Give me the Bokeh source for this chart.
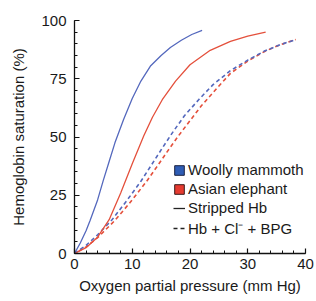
from bokeh.plotting import figure
from bokeh.models import SingleIntervalTicker, Legend, LegendItem
from bokeh.embed import file_html
from bokeh.resources import INLINE

# Woolly mammoth, stripped Hb (solid blue)
mam_strip_x = [0, 1, 2, 2.7, 4, 5, 6, 7, 8.5, 10, 11.5, 13.2, 15, 16.6, 18.5, 20.3, 22.1]
mam_strip_y = [0, 4.5, 9.8, 14.2, 23, 31.5, 39.5, 47.5, 57.5, 66.5, 74, 80.6, 85, 88.4, 91.5, 94, 95.8]

# Asian elephant, stripped Hb (solid red)
ele_strip_x = [0, 2, 4, 6, 8, 10, 12, 13.5, 15.2, 17.5, 20, 23.5, 27, 30, 33.1]
ele_strip_y = [0, 2.5, 7, 14.5, 26, 38.5, 50.5, 58.5, 66, 74, 81, 87.2, 91, 93.3, 95]

# Woolly mammoth, Hb + Cl- + BPG (dashed blue)
mam_eff_x = [0, 2, 4, 6.5, 9, 11.5, 13.2, 15, 17, 19, 21.5, 24, 27, 30, 33, 35.5, 38.3]
mam_eff_y = [0, 3.5, 8, 14.5, 22.5, 31, 37.5, 44.5, 52, 59, 66, 72.5, 78.5, 83, 87, 89.5, 91.8]

# Asian elephant, Hb + Cl- + BPG (dashed red)
ele_eff_x = [0, 2, 4, 7, 9.5, 12.5, 14.2, 16, 18, 20, 22, 24.5, 27, 30, 33, 35.5, 38.3]
ele_eff_y = [0, 2.8, 6.8, 14.2, 21.5, 31, 37, 43.5, 50.5, 57, 63.5, 70.5, 77.3, 82.6, 86.8, 89.5, 91.8]

legend_labels = ["Woolly mammoth", "Asian elephant", "Stripped Hb", "Hb + Cl\u207B + BPG"]

BLUE_LINE = "#5468bd"
RED_LINE = "#e4503c"
BLUE_BOX = "#2f5db5"
RED_BOX = "#e63b30"
FONT = "Liberation Sans"
NAN = float("nan")

p = figure(width=316, height=301, x_range=(0, 40), y_range=(0, 100),
           output_backend="svg", toolbar_location=None,
           min_border_left=74, min_border_right=11, min_border_top=20, min_border_bottom=48)
p.grid.visible = False
p.outline_line_color = None
p.background_fill_color = "white"
p.border_fill_color = "white"

p.line(ele_eff_x, ele_eff_y, line_color=RED_LINE, line_width=1.6, line_dash="4 3", line_dash_offset=2)
p.line(mam_eff_x, mam_eff_y, line_color=BLUE_LINE, line_width=1.6, line_dash="4 3")
p.line(ele_strip_x, ele_strip_y, line_color=RED_LINE, line_width=1.3)
p.line(mam_strip_x, mam_strip_y, line_color=BLUE_LINE, line_width=1.3)

p.xaxis.ticker = SingleIntervalTicker(interval=10, num_minor_ticks=5)
p.yaxis.ticker = SingleIntervalTicker(interval=25, num_minor_ticks=5)
p.xaxis.axis_label = "Oxygen partial pressure (mm Hg)"
p.yaxis.axis_label = "Hemoglobin saturation (%)"

for ax in (p.xaxis[0], p.yaxis[0]):
    ax.major_tick_in = 5
    ax.major_tick_out = 0
    ax.minor_tick_in = 3
    ax.minor_tick_out = 0
    ax.axis_line_width = 1.3
    ax.axis_line_color = "#111111"
    ax.major_tick_line_color = "#111111"
    ax.minor_tick_line_color = "#111111"
    ax.major_tick_line_width = 1.2
    ax.minor_tick_line_width = 1
    ax.major_label_text_font = FONT
    ax.major_label_text_font_size = "15px"
    ax.major_label_text_color = "#1a1a1a"
    ax.axis_label_text_font = FONT
    ax.axis_label_text_font_size = "15px"
    ax.axis_label_text_font_style = "normal"
    ax.axis_label_text_color = "#1a1a1a"

p.yaxis.major_label_standoff = 8
p.yaxis.axis_label_standoff = 11
p.xaxis.major_label_standoff = 5
p.xaxis.axis_label_standoff = 5

r1 = p.quad(left=[NAN], right=[NAN], top=[NAN], bottom=[NAN],
            fill_color=BLUE_BOX, line_color="#1c2340", line_width=1)
r2 = p.quad(left=[NAN], right=[NAN], top=[NAN], bottom=[NAN],
            fill_color=RED_BOX, line_color="#3a1a1a", line_width=1)
r3 = p.line(x=[NAN], y=[NAN], line_color="#222222", line_width=1.3)
r4 = p.line(x=[NAN], y=[NAN], line_color="#222222", line_width=1.3, line_dash="4 3")

legend = Legend(items=[LegendItem(label=legend_labels[0], renderers=[r1]),
                       LegendItem(label=legend_labels[1], renderers=[r2]),
                       LegendItem(label=legend_labels[2], renderers=[r3]),
                       LegendItem(label=legend_labels[3], renderers=[r4])],
                location=(99, 15), glyph_width=12, glyph_height=12, label_standoff=3,
                spacing=2, label_height=16, padding=0, margin=0,
                border_line_alpha=0, background_fill_alpha=0,
                label_text_font=FONT, label_text_font_size="15px", label_text_color="#1a1a1a")
p.add_layout(legend)

open("out.html", "w").write(file_html(p, INLINE))
